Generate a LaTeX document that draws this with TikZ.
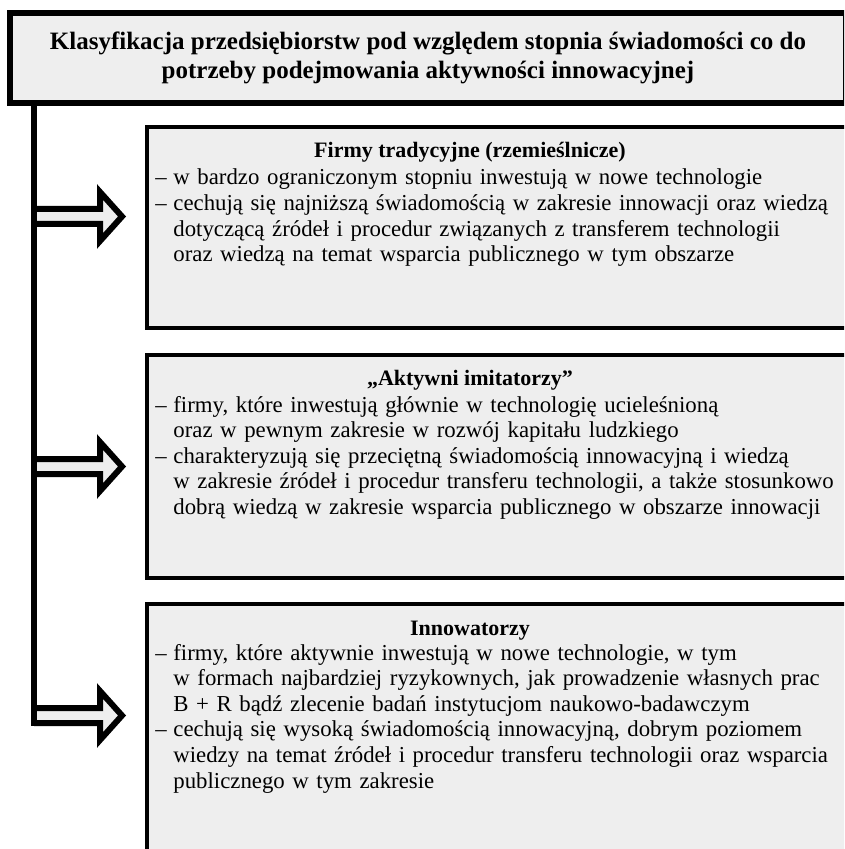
\documentclass[tikz,border=0pt]{standalone}
\usepackage{fontspec}
\setmainfont{Liberation Serif}
\usetikzlibrary{positioning}
\definecolor{boxgray}{RGB}{238,238,238}
\newcommand{\dsh}{\makebox[9pt][l]{–}}
\newcommand{\cnt}{\hspace*{9pt}}

\begin{document}
\begin{tikzpicture}[x=0.5pt, y=-0.5pt,
      ttl/.style={draw, line width=3pt, fill=boxgray, inner sep=0pt, minimum width=418pt, minimum height=45pt, align=center, font=\bfseries\fontsize{12.5}{14.5}\selectfont},
      grp/.style={draw, line width=2pt, fill=boxgray, inner sep=0pt, minimum width=356.5pt},
      hd/.style={anchor=base, inner sep=0pt, font=\bfseries\fontsize{11}{12.8}\selectfont},
      txt/.style={anchor=base west, inner sep=0pt, text width=345pt, align=left, font=\fontsize{11.4}{12.8}\selectfont},
      arr/.style={draw=black, fill=boxgray, line width=3pt, miter limit=10}]
      \useasboundingbox (0,0) rectangle (844,849);
      \clip (0,0) rectangle (844,849);
      \node[ttl] (title) at (428,58) {Klasyfikacja przedsiębiorstw pod względem stopnia świadomości co do\\potrzeby podejmowania aktywności innowacyjnej};
      \node[grp, minimum height=100.5pt] (trad) at (503.5,227.5) {};
      \node[grp, minimum height=111.5pt] (imit) at (503.5,466.5) {};
      \node[grp, minimum height=133pt] (inno) at (503.5,737) {};
      % headings and items
      \node[hd] (tradh) at (470,158) {Firmy tradycyjne (rzemieślnicze)};
      \node[txt] (tradt) at (155,185) {\dsh w bardzo ograniczonym stopniu inwestują w nowe technologie\\
        \dsh cechują się najniższą świadomością w zakresie innowacji oraz wiedzą\\
        \cnt dotyczącą źródeł i procedur związanych z transferem technologii\\
        \cnt oraz wiedzą na temat wsparcia publicznego w tym obszarze};
      \node[hd] (imith) at (470,385) {„Aktywni imitatorzy”};
      \node[txt] (imitt) at (155,412) {\dsh firmy, które inwestują głównie w technologię ucieleśnioną\\
        \cnt oraz w pewnym zakresie w rozwój kapitału ludzkiego\\
        \dsh charakteryzują się przeciętną świadomością innowacyjną i wiedzą\\
        \cnt w zakresie źródeł i procedur transferu technologii, a także stosunkowo\\
        \cnt dobrą wiedzą w zakresie wsparcia publicznego w obszarze innowacji};
      \node[hd] (innoh) at (470,635) {Innowatorzy};
      \node[txt] (innot) at (155,660) {\dsh firmy, które aktywnie inwestują w nowe technologie, w tym\\
        \cnt w formach najbardziej ryzykownych, jak prowadzenie własnych prac\\
        \cnt B + R bądź zlecenie badań instytucjom naukowo-badawczym\\
        \dsh cechują się wysoką świadomością innowacyjną, dobrym poziomem\\
        \cnt wiedzy na temat źródeł i procedur transferu technologii oraz wsparcia\\
        \cnt publicznego w tym zakresie};
      % trunk and block arrows
      \coordinate (t1) at (34,216.5); \coordinate (t2) at (34,466.5); \coordinate (t3) at (34,715.5);
      \foreach \t in {t1,t2,t3}
        \filldraw[arr] ([yshift=3.75pt]\t) -- ++(66,0) -- ++(0,-17) -- ++(22,24.5) -- ++(-22,24.5) -- ++(0,-17) -- ++(-66,0);
      \draw[line width=3pt, line cap=rect] (title.south -| t1) -- ([yshift=-3.75pt]t3);
    \end{tikzpicture}
\end{document}
